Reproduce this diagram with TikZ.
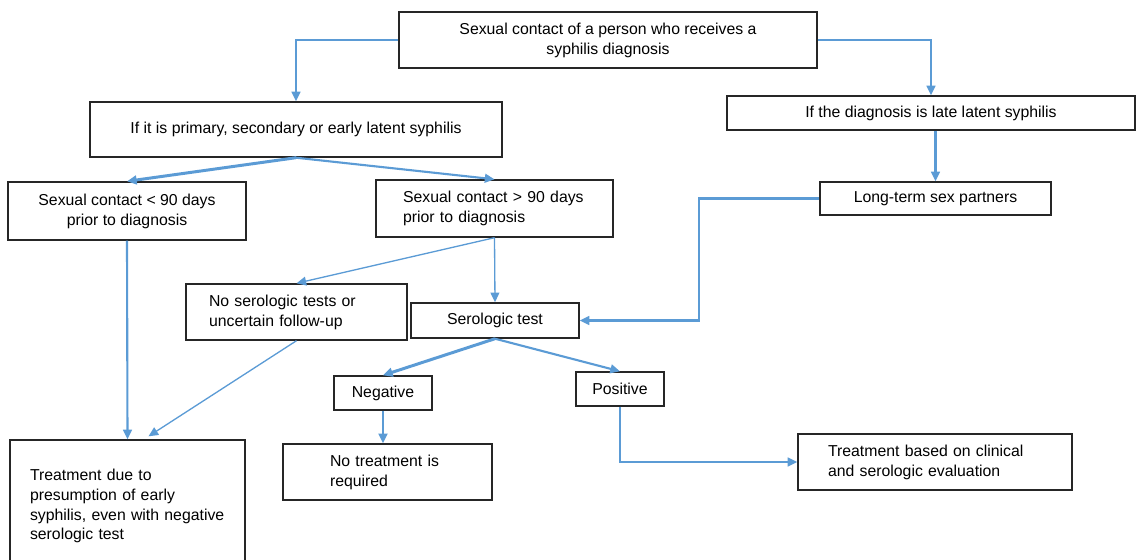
\documentclass[tikz,border=0pt]{standalone}
\usepackage{fontspec}
\setmainfont{Liberation Sans}
\usepackage{xcolor}
\usetikzlibrary{arrows.meta, positioning, calc}
\definecolor{flowblue}{RGB}{91,155,213}

\begin{document}
\begin{tikzpicture}[x=0.02cm, y=-0.02cm,
    box/.style={draw=black!85, line width=0.8pt, inner ysep=2pt, align=center,
        font=\fontsize{9}{11.3}\selectfont},
    lbox/.style={box, align=left},
    flow/.style={draw=flowblue, line width=1.2pt, -{Triangle[length=5.5pt,width=5pt]}},
    thinflow/.style={flow, line width=0.75pt},
    thickflow/.style={flow, line width=1.7pt}
]
    \useasboundingbox (0,0) rectangle (1137,559);

    \node[box, minimum width=8.36cm, minimum height=1.12cm] (top) at (608,40)
        {Sexual contact of a person who receives a\\syphilis diagnosis};
    \node[box, minimum width=8.24cm, minimum height=1.1cm] (prim) at (296,129.5)
        {If it is primary, secondary or early latent syphilis};
    \node[box, minimum width=8.16cm, minimum height=0.68cm] (late) at (931,113)
        {If the diagnosis is late latent syphilis};

    \node[box, minimum width=4.76cm, minimum height=1.16cm] (lt) at (127,211)
        {Sexual contact < 90 days\\prior to diagnosis};
    \node[lbox, inner xsep=0.54cm, text width=3.66cm, minimum height=1.14cm] (gt) at (494.5,208.5)
        {Sexual contact > 90 days\\prior to diagnosis};
    \node[box, minimum width=4.62cm, minimum height=0.66cm] (long) at (935.5,198.5)
        {Long-term sex partners};

    \node[lbox, inner xsep=0.46cm, text width=3.5cm, minimum height=1.12cm] (noser) at (296.5,312)
        {No serologic tests or\\uncertain follow-up};
    \node[box, minimum width=3.36cm, minimum height=0.7cm] (sero) at (495,320.5)
        {Serologic test};
    \node[box, minimum width=1.96cm, minimum height=0.68cm] (neg) at (383,393) {Negative};
    \node[box, minimum width=1.76cm, minimum height=0.68cm] (pos) at (620,389) {Positive};

    \node[lbox, inner xsep=0.94cm, text width=2.3cm, minimum height=1.12cm] (notreat) at (387.5,472)
        {No treatment is\\required};
    \node[lbox, inner xsep=0.4cm, text width=3.9cm, minimum height=2.64cm] (early) at (127.5,506)
        {Treatment due to\\presumption of early\\syphilis, even with negative\\serologic test};
    \node[lbox, inner xsep=0.6cm, text width=4.28cm, minimum height=1.12cm] (clin) at (935,462)
        {Treatment based on clinical\\and serologic evaluation};

    % connectors
    \draw[flow] (top.west) -| (prim.north);
    \draw[flow] (top.east) -| (late.north);
    \draw[flow] (long.north |- late.south) -- (long.north);
    \draw[thickflow] (prim.south) -- (lt.north);
    \draw[flow] (prim.south) -- (gt.north);
    \draw[flow] (lt.south) -- (early.north);
    \draw[thinflow] (gt.south) -- (noser.north);
    \draw[thinflow] (gt.south) -- (sero.north);
    \draw[thinflow] (noser.south) -- ([xshift=0.42cm, yshift=0.06cm]early.north);
    \draw[flow] (long.west) -- ([xshift=-2.4cm]long.west) |- (sero.east);
    \draw[thickflow] (sero.south) -- (neg.north);
    \draw[flow] (sero.south) -- (pos.north);
    \draw[thickflow] (neg.south) -- (neg.south |- notreat.north);
    \draw[flow] (pos.south) |- (clin.west);
\end{tikzpicture}
\end{document}
